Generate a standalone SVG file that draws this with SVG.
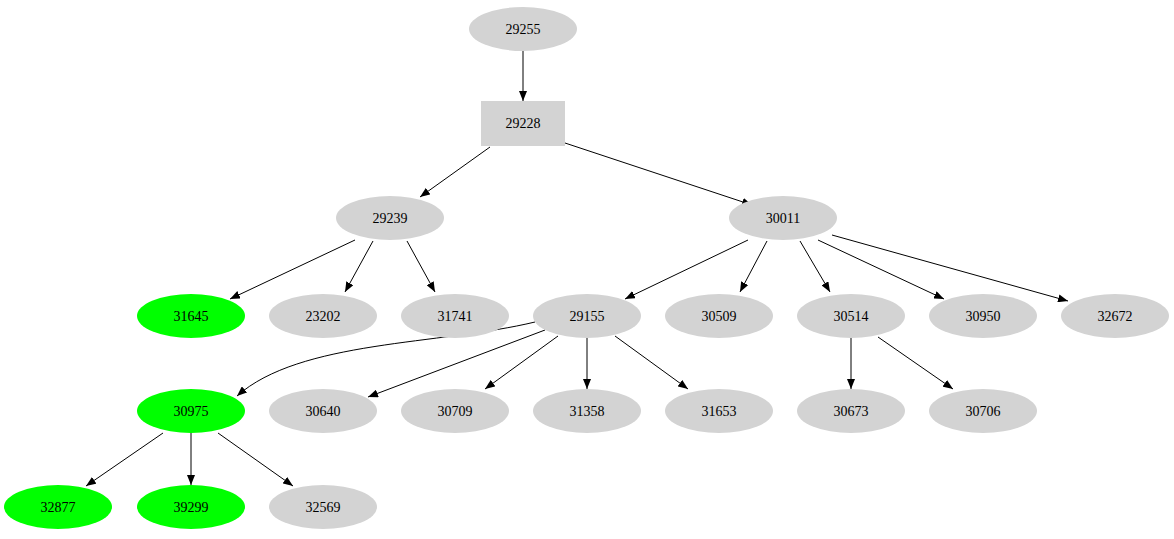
<svg xmlns="http://www.w3.org/2000/svg" width="1174" height="539" viewBox="0 0 1174 539">
<style>
.n{fill:#d3d3d3;stroke:none}.g{fill:#00ff00;stroke:none}
text{font-family:"Liberation Serif",serif;font-size:14px;text-anchor:middle;fill:#000}
.e path{fill:none;stroke:#000;stroke-width:1;marker-end:url(#a)}
</style>
<defs><marker id="a" markerWidth="10" markerHeight="8" refX="10" refY="4" orient="auto" markerUnits="userSpaceOnUse"><path d="M0,0L10,4L0,8z" fill="#000"/></marker></defs>
<g class="e">
<path d="M523,51L523,101"/>
<path d="M490,147L420,197"/>
<path d="M565,143L752,205"/>
<path d="M355,240L230,299"/>
<path d="M373,241L345,292"/>
<path d="M407,241L435,292"/>
<path d="M748,240L625,299"/>
<path d="M767,241L740,292"/>
<path d="M800,241L830,292"/>
<path d="M818,240L944,299"/>
<path d="M832,235L1068,301"/>
<path d="M535,322C440,345 300,340 237,396"/>
<path d="M545,330L368,397"/>
<path d="M558,336L485,389"/>
<path d="M587,338L587,389"/>
<path d="M615,336L688,389"/>
<path d="M851,338L851,389"/>
<path d="M878,337L953,389"/>
<path d="M163,433L86,486"/>
<path d="M191,433L191,485"/>
<path d="M218,433L293,486"/>
</g>
<g id="n29255"><ellipse class="n" cx="523" cy="29" rx="54" ry="22"/><text x="523" y="34">29255</text></g>
<g id="n29228"><rect class="n" x="481" y="101" width="84" height="45"/><text x="523" y="128">29228</text></g>
<g id="n29239"><ellipse class="n" cx="390" cy="218" rx="54" ry="22"/><text x="390" y="223">29239</text></g>
<g id="n30011"><ellipse class="n" cx="783" cy="218" rx="54" ry="22"/><text x="783" y="223">30011</text></g>
<g id="n31645"><ellipse class="g" cx="191" cy="316" rx="54" ry="22"/><text x="191" y="321">31645</text></g>
<g id="n23202"><ellipse class="n" cx="323" cy="316" rx="54" ry="22"/><text x="323" y="321">23202</text></g>
<g id="n31741"><ellipse class="n" cx="455" cy="316" rx="54" ry="22"/><text x="455" y="321">31741</text></g>
<g id="n29155"><ellipse class="n" cx="587" cy="316" rx="54" ry="22"/><text x="587" y="321">29155</text></g>
<g id="n30509"><ellipse class="n" cx="719" cy="316" rx="54" ry="22"/><text x="719" y="321">30509</text></g>
<g id="n30514"><ellipse class="n" cx="851" cy="316" rx="54" ry="22"/><text x="851" y="321">30514</text></g>
<g id="n30950"><ellipse class="n" cx="983" cy="316" rx="54" ry="22"/><text x="983" y="321">30950</text></g>
<g id="n32672"><ellipse class="n" cx="1115" cy="316" rx="54" ry="22"/><text x="1115" y="321">32672</text></g>
<g id="n30975"><ellipse class="g" cx="191" cy="411" rx="54" ry="22"/><text x="191" y="416">30975</text></g>
<g id="n30640"><ellipse class="n" cx="323" cy="411" rx="54" ry="22"/><text x="323" y="416">30640</text></g>
<g id="n30709"><ellipse class="n" cx="455" cy="411" rx="54" ry="22"/><text x="455" y="416">30709</text></g>
<g id="n31358"><ellipse class="n" cx="587" cy="411" rx="54" ry="22"/><text x="587" y="416">31358</text></g>
<g id="n31653"><ellipse class="n" cx="719" cy="411" rx="54" ry="22"/><text x="719" y="416">31653</text></g>
<g id="n30673"><ellipse class="n" cx="851" cy="411" rx="54" ry="22"/><text x="851" y="416">30673</text></g>
<g id="n30706"><ellipse class="n" cx="983" cy="411" rx="54" ry="22"/><text x="983" y="416">30706</text></g>
<g id="n32877"><ellipse class="g" cx="58" cy="507" rx="54" ry="22"/><text x="58" y="512">32877</text></g>
<g id="n39299"><ellipse class="g" cx="191" cy="507" rx="54" ry="22"/><text x="191" y="512">39299</text></g>
<g id="n32569"><ellipse class="n" cx="323" cy="507" rx="54" ry="22"/><text x="323" y="512">32569</text></g>
</svg>
